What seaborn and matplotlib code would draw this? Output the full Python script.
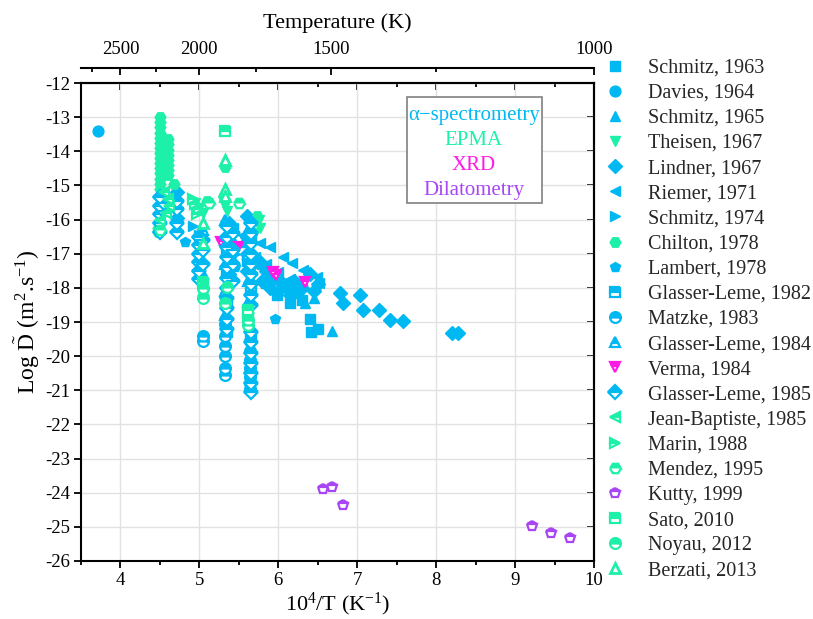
import numpy as np
import pandas as pd
import matplotlib
matplotlib.use('Agg')
import matplotlib.pyplot as plt
from matplotlib.lines import Line2D
from matplotlib.patches import Rectangle
from matplotlib.ticker import MultipleLocator, FixedLocator
import seaborn as sns

# ---- data (x = 10^4/T, y = log D) ----
schmitz_1963_x = [5.38, 5.38, 5.6, 5.6, 5.85, 5.98, 6.08, 6.15, 6.3, 6.4, 6.42, 6.5]
schmitz_1963_y = [-16.8, -17.7, -16.6, -17.2, -17.85, -18.2, -17.9, -18.45, -18.35, -18.9, -19.3, -19.2]

davies_1964_x = [3.72]
davies_1964_y = [-13.42]

schmitz_1965_x = [5.55, 5.8, 6.18, 6.25, 6.34, 6.45, 6.68]
schmitz_1965_y = [-16.65, -17.3, -17.97, -18.15, -18.45, -18.3, -19.25]

theisen_1967_x = [4.95, 5.0, 5.05, 5.3, 5.32, 5.35, 5.75, 5.77, 5.7]
theisen_1967_y = [-15.5, -15.65, -15.8, -15.45, -15.6, -15.75, -16.0, -16.25, -16.4]

lindner_1967_x = [4.72, 4.72, 5.38, 5.38, 5.38, 5.38, 5.6, 5.6, 5.6, 5.6, 5.75, 5.8, 5.85,
                  5.9, 5.95, 6.0, 6.05, 6.1, 6.15, 6.2, 6.3, 6.4, 6.45, 6.5, 6.78, 6.82,
                  7.03, 7.07, 7.28, 7.41, 7.58, 8.2, 8.28]
lindner_1967_y = [-15.2, -15.95, -16.1, -16.6, -17.1, -17.6, -15.9, -16.5, -17.0, -17.5, -17.2,
                  -17.8, -17.5, -18.0, -17.7, -18.1, -17.85, -17.95, -18.2, -17.8, -18.0, -17.6,
                  -18.1, -17.9, -18.15, -18.44, -18.2, -18.65, -18.65, -18.94, -18.97, -19.32, -19.32]

riemer_1971_x = [5.42, 5.55, 5.65, 5.77, 5.89, 6.06, 6.18, 6.31, 6.49, 6.52, 5.7, 5.85, 6.0, 6.15, 6.3]
riemer_1971_y = [-16.25, -16.45, -16.55, -16.69, -16.8, -17.1, -17.27, -17.48, -17.68, -17.86,
                 -17.1, -17.3, -17.55, -17.75, -17.95]

schmitz_1974_x = [4.92, 5.0, 5.45, 5.7, 5.95, 6.1]
schmitz_1974_y = [-16.2, -16.45, -17.0, -17.35, -17.7, -17.95]

chilton_1978_x = [4.5] * 15 + [4.6] * 8 + [4.68, 4.47, 4.47, 5.1, 5.32, 5.05, 5.05, 5.62, 5.73]
chilton_1978_y = [-13.0, -13.15, -13.3, -13.45, -13.6, -13.75, -13.9, -14.05, -14.2, -14.35,
                  -14.5, -14.65, -14.8, -14.95, -15.1,
                  -13.65, -13.8, -13.95, -14.1, -14.25, -14.4, -14.55, -14.7,
                  -14.95, -16.25, -16.35, -15.45, -14.45, -18.05, -18.2, -18.75, -15.9]

lambert_1978_x = [4.82, 5.45, 5.96]
lambert_1978_y = [-16.66, -17.4, -18.9]

glasser_1982_x = [5.35, 5.35, 5.35, 5.35, 5.65, 5.65, 5.65]
glasser_1982_y = [-16.9, -17.6, -18.5, -19.3, -17.2, -18.0, -19.4]

matzke_1983_x = [5.05, 5.05] + [5.33] * 6 + [5.64] * 7
matzke_1983_y = [-19.4, -19.55, -19.05, -19.4, -19.7, -20.0, -20.35, -20.55,
                 -19.55, -19.85, -20.1, -20.35, -20.6, -20.8, -20.95]

glasser_1984_x = [5.05, 5.05, 5.33, 5.33, 5.33, 5.33, 5.33, 5.62, 5.62, 5.62, 5.62]
glasser_1984_y = [-16.3, -17.6, -16.0, -16.6, -17.3, -18.1, -18.8, -16.3, -17.0, -17.8, -18.4]

verma_1984_x = [5.28, 5.49, 5.93, 5.97, 6.34]
verma_1984_y = [-16.66, -16.8, -17.54, -17.62, -17.83]

glasser_1985_x = ([4.5] * 5 + [4.55] * 2 + [4.72] * 4 + [5.0] * 6 + [5.05] * 3
                  + [5.35] * 11 + [5.42] * 4 + [5.65] * 16)
glasser_1985_y = [-15.35, -15.6, -15.85, -16.1, -16.35, -15.5, -15.75,
                  -15.45, -15.7, -16.1, -16.35,
                  -16.5, -16.75, -17.0, -17.25, -17.5, -17.75, -16.6, -16.9, -17.3,
                  -16.2, -16.5, -16.8, -17.1, -17.4, -17.7, -18.0, -18.3, -18.6, -18.9, -19.2,
                  -16.4, -16.9, -17.3, -17.8,
                  -16.1, -16.4, -16.7, -17.0, -17.3, -17.6, -17.9, -18.2, -18.5, -19.3,
                  -19.6, -19.9, -20.2, -20.5, -20.8, -21.05]

jean_baptiste_1985_x = [4.55, 4.6, 4.62, 4.58, 4.5]
jean_baptiste_1985_y = [-15.2, -15.4, -15.6, -15.8, -16.0]

marin_1988_x = [4.92, 4.95, 5.0, 4.97]
marin_1988_y = [-15.4, -15.55, -15.7, -15.85]

mendez_1995_x = [4.5, 5.12, 5.5]
mendez_1995_y = [-16.3, -15.5, -15.5]

kutty_1999_x = [6.57, 6.68, 6.82, 9.21, 9.46, 9.69]
kutty_1999_y = [-23.9, -23.83, -24.35, -24.98, -25.18, -25.32]

sato_2010_x = [5.32, 5.05, 5.62, 5.62]
sato_2010_y = [-13.4, -17.83, -18.65, -18.85]

noyau_2012_x = [5.05, 5.05, 5.35, 5.33, 5.62, 5.62]
noyau_2012_y = [-18.0, -18.3, -17.97, -18.45, -18.95, -19.1]

berzati_2013_x = [5.32, 5.32, 5.32, 5.05, 5.05]
berzati_2013_y = [-14.25, -15.1, -15.3, -16.1, -16.7]

temp_ticks = [2500, 2000, 1500, 1000]
temp_minor = [2750, 2250, 1750, 1250]
method_labels = ['\u03b1\u2212spectrometry', 'EPMA', 'XRD', 'Dilatometry']

# ---- style ----
BLUE = '#00B9F2'
GREEN = '#1DF0A8'
MAGENTA = '#FF1AE6'
PURPLE = '#A845F5'
method_colors = [BLUE, GREEN, MAGENTA, PURPLE]

series = [
    ('Schmitz, 1963', schmitz_1963_x, schmitz_1963_y, 's', BLUE, 'full'),
    ('Davies, 1964', davies_1964_x, davies_1964_y, 'o', BLUE, 'full'),
    ('Schmitz, 1965', schmitz_1965_x, schmitz_1965_y, '^', BLUE, 'full'),
    ('Theisen, 1967', theisen_1967_x, theisen_1967_y, 'v', GREEN, 'full'),
    ('Lindner, 1967', lindner_1967_x, lindner_1967_y, 'D', BLUE, 'full'),
    ('Riemer, 1971', riemer_1971_x, riemer_1971_y, '<', BLUE, 'full'),
    ('Schmitz, 1974', schmitz_1974_x, schmitz_1974_y, '>', BLUE, 'full'),
    ('Chilton, 1978', chilton_1978_x, chilton_1978_y, 'H', GREEN, 'full'),
    ('Lambert, 1978', lambert_1978_x, lambert_1978_y, 'p', BLUE, 'full'),
    ('Glasser-Leme, 1982', glasser_1982_x, glasser_1982_y, 's', BLUE, 'half'),
    ('Matzke, 1983', matzke_1983_x, matzke_1983_y, 'o', BLUE, 'half'),
    ('Glasser-Leme, 1984', glasser_1984_x, glasser_1984_y, '^', BLUE, 'half'),
    ('Verma, 1984', verma_1984_x, verma_1984_y, 'v', MAGENTA, 'half'),
    ('Glasser-Leme, 1985', glasser_1985_x, glasser_1985_y, 'D', BLUE, 'half'),
    ('Jean-Baptiste, 1985', jean_baptiste_1985_x, jean_baptiste_1985_y, '<', GREEN, 'half'),
    ('Marin, 1988', marin_1988_x, marin_1988_y, '>', GREEN, 'half'),
    ('Mendez, 1995', mendez_1995_x, mendez_1995_y, 'H', GREEN, 'half'),
    ('Kutty, 1999', kutty_1999_x, kutty_1999_y, 'p', PURPLE, 'half'),
    ('Sato, 2010', sato_2010_x, sato_2010_y, 's', GREEN, 'half'),
    ('Noyau, 2012', noyau_2012_x, noyau_2012_y, 'o', GREEN, 'half'),
    ('Berzati, 2013', berzati_2013_x, berzati_2013_y, '^', GREEN, 'open'),
]

sns.set_theme(style='whitegrid')
plt.rcParams['font.family'] = ['Liberation Serif', 'DejaVu Serif']
plt.rcParams['mathtext.fontset'] = 'custom'
plt.rcParams['mathtext.rm'] = 'Liberation Serif'
plt.rcParams['mathtext.it'] = 'Liberation Serif:italic'
plt.rcParams['axes.unicode_minus'] = False

TICK_FS = 13.5
LABEL_FS = 16

fig = plt.figure(figsize=(8.13, 6.19), dpi=100)
ax = fig.add_axes([0.0996, 0.0937, 0.631, 0.7722])


def marker_kws(marker, color, fill):
    ms = 6.8 if marker == 'D' else 7.8
    kw = dict(marker=marker, markersize=ms, color=color, markeredgecolor=color,
              markeredgewidth=1.0, linestyle='')
    if fill == 'half':
        kw.update(fillstyle='top', markerfacecoloralt='white', markeredgewidth=1.6)
    elif fill == 'open':
        kw.update(markerfacecolor='white', markeredgewidth=2.0)
    return kw


handles = []
for label, xs, ys, marker, color, fill in series:
    df = pd.DataFrame({'x': xs, 'y': ys})
    kw = marker_kws(marker, color, fill)
    sns.lineplot(data=df, x='x', y='y', estimator=None, sort=False, errorbar=None,
                 legend=False, ax=ax, **kw)
    handles.append(Line2D([], [], **kw))

ax.set_xlim(3.5, 10)
ax.set_ylim(-26, -12)
ax.xaxis.set_major_locator(MultipleLocator(1))
ax.xaxis.set_minor_locator(MultipleLocator(0.5))
ax.yaxis.set_major_locator(MultipleLocator(1))
ax.grid(True, which='major', color='#E2E2E2', linewidth=1.0)
ax.grid(False, which='minor')
for s in ax.spines.values():
    s.set_color('black')
    s.set_linewidth(1.5)
ax.tick_params(which='both', direction='out', colors='black', labelsize=TICK_FS,
               bottom=True, left=True, width=1.3, pad=3)
ax.tick_params(which='major', length=5)
ax.tick_params(which='minor', length=3)
ax.set_xlabel(r'10$^4$/T (K$^{-1}$)', fontsize=LABEL_FS, color='black', labelpad=1)
ax.set_ylabel(r'Log $\tilde{\mathrm{D}}$ (m$^2$.s$^{-1}$)', fontsize=17, color='black', labelpad=2)


def ident(v):
    return v


def recip(v):
    v = np.asarray(v, dtype=float)
    with np.errstate(divide='ignore', invalid='ignore'):
        return 1e4 / v


# mirrored inward ticks on the frame
frame_top = ax.secondary_xaxis('top', functions=(ident, ident))
frame_top.xaxis.set_major_locator(MultipleLocator(1))
frame_top.xaxis.set_minor_locator(MultipleLocator(0.5))
frame_top.tick_params(which='both', direction='in', labeltop=False, width=1.3, colors='black')
frame_top.tick_params(which='major', length=5)
frame_top.tick_params(which='minor', length=3)
frame_right = ax.secondary_yaxis('right', functions=(ident, ident))
frame_right.yaxis.set_major_locator(MultipleLocator(1))
frame_right.tick_params(which='both', direction='in', labelright=False, length=5,
                        width=1.3, colors='black')
for sec in (frame_top, frame_right):
    for s in sec.spines.values():
        s.set_color('black')
        s.set_linewidth(1.5)

# temperature axis, offset above the frame
temp_ax = ax.secondary_xaxis(1.031, functions=(recip, recip))
temp_ax.xaxis.set_major_locator(FixedLocator(temp_ticks))
temp_ax.xaxis.set_minor_locator(FixedLocator(temp_minor))
temp_ax.tick_params(which='both', direction='in', colors='black', labelsize=TICK_FS,
                    width=1.3, pad=7)
temp_ax.tick_params(which='major', length=5)
temp_ax.tick_params(which='minor', length=3)
for s in temp_ax.spines.values():
    s.set_color('black')
    s.set_linewidth(1.5)
temp_ax.set_xlabel('Temperature (K)', fontsize=LABEL_FS, color='black', labelpad=9.5)

# method box
ax.add_patch(Rectangle((0.635, 0.749), 0.263, 0.222, transform=ax.transAxes,
                       facecolor='white', edgecolor='#808080', linewidth=1.2, zorder=6))
for i, (txt, col) in enumerate(zip(method_labels, method_colors)):
    ax.text(0.766, 0.933 - i * 0.0525, txt, transform=ax.transAxes, ha='center',
            va='center', fontsize=15, color=col, zorder=7)

fig.legend(handles, [s[0] for s in series], loc='upper left',
           bbox_to_anchor=(0.744, 0.9055), frameon=False, fontsize=14.5,
           handlelength=1.0, handletextpad=1.15, labelspacing=0.3,
           borderaxespad=0, borderpad=0)

fig.savefig('out.png', dpi=100)
